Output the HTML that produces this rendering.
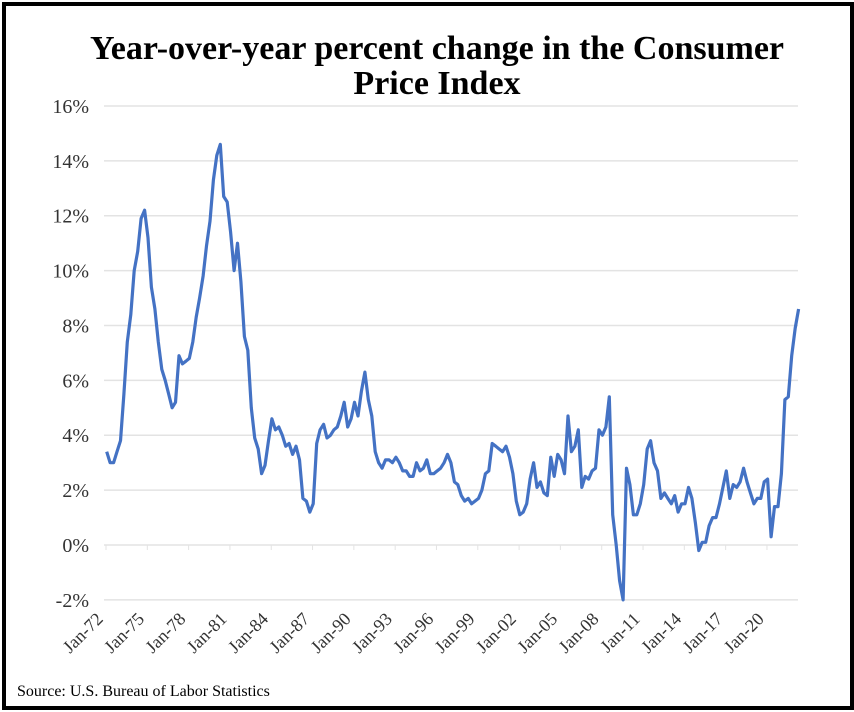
<!DOCTYPE html>
<html><head><meta charset="utf-8"><style>
html,body{margin:0;padding:0;background:#fff;}
#wrap{position:relative;width:854px;height:712px;overflow:hidden;background:#fff;}
#frame{position:absolute;left:2px;top:2px;width:844px;height:700px;border:4px solid #000;}
svg{position:absolute;left:0;top:0;}
</style></head><body>
<div id="wrap">
<div id="frame"></div>
<svg id="chart" width="854" height="712">
<text x="437" y="59" text-anchor="middle" font-family="Liberation Serif, serif" font-weight="bold" font-size="34">Year-over-year percent change in the Consumer</text>
<text x="437" y="94" text-anchor="middle" font-family="Liberation Serif, serif" font-weight="bold" font-size="34">Price Index</text>
<text x="17" y="696" font-family="Liberation Serif, serif" font-size="16">Source: U.S. Bureau of Labor Statistics</text>
<g id="grid"></g><g id="yl"></g><g id="xl"></g><g id="series"></g>
</svg>
</div>
<script>
const yTicks=[-2,0,2,4,6,8,10,12,14,16];
const xTickYears=[1972,1975,1978,1981,1984,1987,1990,1993,1996,1999,2002,2005,2008,2011,2014,2017,2020];
const xTickLabels=["Jan-72","Jan-75","Jan-78","Jan-81","Jan-84","Jan-87","Jan-90","Jan-93","Jan-96","Jan-99","Jan-02","Jan-05","Jan-08","Jan-11","Jan-14","Jan-17","Jan-20"];
const startYear=1972;
const cpiValues=[
3.4,3.0,3.0,3.4, 3.8,5.5,7.4,8.4, 10.0,10.7,11.9,12.2, 11.2,9.4,8.6,7.4,
6.4,6.0,5.5,5.0, 5.2,6.9,6.6,6.7, 6.8,7.4,8.3,9.0, 9.8,10.9,11.8,13.3,
14.2,14.6,12.7,12.5, 11.4,10.0,11.0,9.6, 7.6,7.1,5.0,3.9, 3.5,2.6,2.9,3.8,
4.6,4.2,4.3,4.0, 3.6,3.7,3.3,3.6, 3.1,1.7,1.6,1.2, 1.5,3.7,4.2,4.4,
3.9,4.0,4.2,4.3, 4.7,5.2,4.3,4.6, 5.2,4.7,5.6,6.3, 5.3,4.7,3.4,3.0,
2.8,3.1,3.1,3.0, 3.2,3.0,2.7,2.7, 2.5,2.5,3.0,2.7, 2.8,3.1,2.6,2.6,
2.7,2.8,3.0,3.3, 3.0,2.3,2.2,1.8, 1.6,1.7,1.5,1.6, 1.7,2.0,2.6,2.7,
3.7,3.6,3.5,3.4, 3.6,3.2,2.6,1.6, 1.1,1.2,1.5,2.4, 3.0,2.1,2.3,1.9,
1.8,3.2,2.5,3.3, 3.1,2.6,4.7,3.4, 3.6,4.2,2.1,2.5, 2.4,2.7,2.8,4.2,
4.0,4.3,5.4,1.1, 0.0,-1.3,-2.0,2.8, 2.2,1.1,1.1,1.5, 2.2,3.5,3.8,3.0,
2.7,1.7,1.9,1.7, 1.5,1.8,1.2,1.5, 1.5,2.1,1.7,0.8, -0.2,0.1,0.1,0.7,
1.0,1.0,1.5,2.1, 2.7,1.7,2.2,2.1, 2.3,2.8,2.3,1.9, 1.5,1.7,1.7,2.3,
2.4,0.3,1.4,1.4, 2.6,5.3,5.4,6.9, 7.9,8.6];
const NS="http://www.w3.org/2000/svg";
const X0=106, PXY=13.77;
function xScale(t){return X0+(t-startYear)*PXY;}
function yScale(v){return 545-v*27.44;}
function mk(tag,attrs,parent){const e=document.createElementNS(NS,tag);for(const k in attrs)e.setAttribute(k,attrs[k]);parent.appendChild(e);return e;}
const grid=document.getElementById('grid'),yl=document.getElementById('yl'),xl=document.getElementById('xl'),ser=document.getElementById('series');
yTicks.forEach(v=>{
  const l=mk('line',{x1:104,x2:798,y1:yScale(v),y2:yScale(v),stroke:'#e3e3e3','stroke-width':1.5},grid);
  
  
  const t=mk('text',{x:89,y:yScale(v)+7,'text-anchor':'end','font-family':'Liberation Serif, serif','font-size':20,fill:'#333'},yl);
  t.textContent=v+'%';
  
  
});
xTickYears.forEach((yr,i)=>{
  const x=xScale(yr);
  const tk=mk('line',{x1:x,x2:x,y1:545,y2:550,stroke:'#e3e3e3','stroke-width':1},grid);
  
  
  const t=mk('text',{x:x-2,y:620,'text-anchor':'end','font-family':'Liberation Serif, serif','font-size':18,fill:'#333',transform:'rotate(-45 '+(x-2)+' 620)'},xl);
  t.textContent=xTickLabels[i];
  
  
});
let d='';
cpiValues.forEach((v,i)=>{const t=startYear+i*0.25+0.05;d+=(i?'L':'M')+xScale(t).toFixed(1)+','+yScale(v).toFixed(1);});
const p=mk('path',{d:d,fill:'none',stroke:'#4472C4','stroke-width':3.2,'stroke-linejoin':'round'},ser);


</script>
</body></html>
